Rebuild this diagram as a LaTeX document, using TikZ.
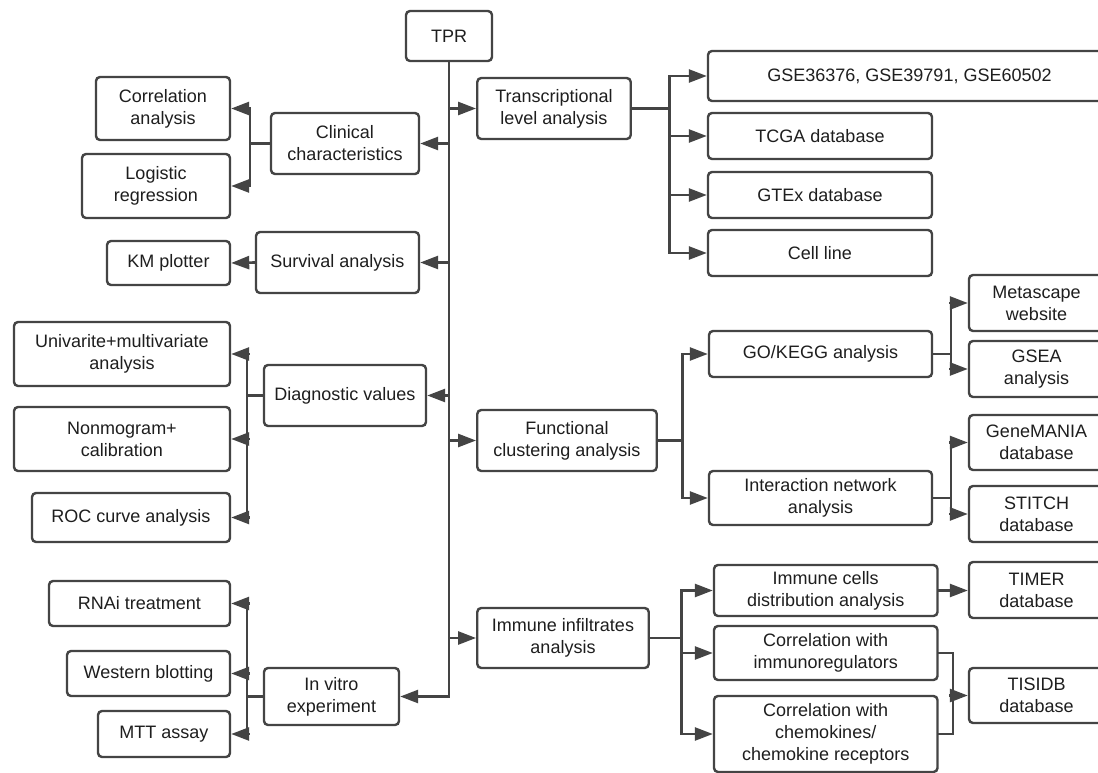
\documentclass[tikz,border=0pt]{standalone}
\usepackage{fontspec}
\setmainfont{Liberation Sans}
\usetikzlibrary{arrows.meta}
\definecolor{lc}{RGB}{68,68,68}
\definecolor{tc}{RGB}{30,30,30}
\newcommand\bx[6]{\node[box,minimum width=#4pt,minimum height=#5pt] (#1) at (#2,#3) {#6};}
\begin{document}
\begin{tikzpicture}[x=1pt,y=-1pt,
  box/.style={draw=lc, line width=2.4pt, rounded corners=4pt, align=center, inner sep=0pt, text=tc, fill=white, font=\fontsize{18}{22}\selectfont},
  con/.style={draw=lc, line width=2.6pt, line cap=rect},
  arr/.style={con, -{Triangle[length=18pt,width=13pt]}}]
\useasboundingbox (0,0) rectangle (1098,773);
\clip (0,0) rectangle (1098,773);
\fill[white] (0,0) rectangle (1098,773);
% left side
\bx{tpr}{449}{36}{86}{50}{TPR}
\bx{clin}{345}{143.5}{148}{61}{Clinical\\characteristics}
\bx{corr}{163}{108.5}{134}{63}{Correlation\\analysis}
\bx{logi}{156}{186}{148}{64}{Logistic\\regression}
\bx{surv}{337.5}{262.5}{163}{61}{Survival analysis}
\bx{km}{168.5}{263}{123}{44}{KM plotter}
\bx{diag}{345}{395.5}{162}{61}{Diagnostic values}
\bx{univ}{122}{354}{216}{64}{Univarite+multivariate\\analysis}
\bx{nomo}{122}{439}{216}{64}{Nonmogram+\\calibration}
\bx{roc}{131}{517.5}{198}{49}{ROC curve analysis}
\bx{vitro}{331.5}{696.5}{135}{57}{In vitro\\experiment}
\bx{rnai}{139.5}{603.5}{181}{45}{RNAi treatment}
\bx{west}{148.5}{673.5}{163}{45}{Western blotting}
\bx{mtt}{164}{734}{132}{46}{MTT assay}
% right side
\bx{trans}{554}{108.5}{153.5}{61}{Transcriptional\\level analysis}
\bx{gse}{909.5}{76}{403}{50}{GSE36376, GSE39791, GSE60502}
\bx{tcga}{820}{136}{224}{46}{TCGA database}
\bx{gtex}{820}{195}{224}{46}{GTEx database}
\bx{cell}{820}{253}{224}{46}{Cell line}
\bx{func}{567}{440.5}{179.5}{61}{Functional\\clustering analysis}
\bx{gokegg}{820.5}{354}{223}{46}{GO/KEGG analysis}
\bx{inter}{820.5}{498}{223}{54}{Interaction network\\analysis}
\bx{meta}{1036.5}{303}{135}{56}{Metascape\\website}
\bx{gsea}{1036.5}{369}{135}{56}{GSEA\\analysis}
\bx{gmania}{1036.5}{442.5}{135}{55}{GeneMANIA\\database}
\bx{stitch}{1036.5}{514}{135}{56}{STITCH\\database}
\bx{immu}{563}{638}{171.5}{60}{Immune infiltrates\\analysis}
\bx{icell}{825.75}{590.5}{223.5}{51}{Immune cells\\distribution analysis}
\bx{cimm}{825.75}{653}{223.5}{54}{Correlation with\\immunoregulators}
\bx{cchem}{825.75}{734}{223.5}{76}{Correlation with\\chemokines/\\chemokine receptors}
\bx{timer}{1036.5}{590}{135}{56}{TIMER\\database}
\bx{tisidb}{1036.5}{695.5}{135}{55}{TISIDB\\database}
% trunk
\draw[arr] (tpr.south) |- (vitro.east);
\draw[arr] (tpr.south |- clin.east) -- (clin.east);
\draw[arr] (tpr.south |- surv.east) -- (surv.east);
\draw[arr] (tpr.south |- diag.east) -- (diag.east);
\draw[arr] (tpr.south |- trans.west) -- (trans.west);
\draw[arr] (tpr.south |- func.west) -- (func.west);
\draw[arr] (tpr.south |- immu.west) -- (immu.west);
% clinical
\coordinate (bclin) at (250,143.5);
\draw[con] (clin.west) -- (bclin);
\draw[con] (bclin |- corr.east) -- (bclin |- logi.east);
\draw[arr] (bclin |- corr.east) -- (corr.east);
\draw[arr] (bclin |- logi.east) -- (logi.east);
% survival
\draw[arr] (surv.west) -- (km.east);
% diagnostic
\coordinate (bdiag) at (247,395.5);
\draw[con] (diag.west) -- (bdiag);
\draw[con] (bdiag |- univ.east) -- (bdiag |- roc.east);
\draw[arr] (bdiag |- univ.east) -- (univ.east);
\draw[arr] (bdiag |- nomo.east) -- (nomo.east);
\draw[arr] (bdiag |- roc.east) -- (roc.east);
% in vitro
\coordinate (bvit) at (247,696.5);
\draw[con] (vitro.west) -- (bvit);
\draw[con] (bvit |- rnai.east) -- (bvit |- mtt.east);
\draw[arr] (bvit |- rnai.east) -- (rnai.east);
\draw[arr] (bvit |- west.east) -- (west.east);
\draw[arr] (bvit |- mtt.east) -- (mtt.east);
% transcriptional
\coordinate (btr) at (669.5,108.5);
\draw[con] (trans.east) -- (btr);
\draw[con] (btr |- gse.west) -- (btr |- cell.west);
\draw[arr] (btr |- gse.west) -- (gse.west);
\draw[arr] (btr |- tcga.west) -- (tcga.west);
\draw[arr] (btr |- gtex.west) -- (gtex.west);
\draw[arr] (btr |- cell.west) -- (cell.west);
% functional
\coordinate (bfu) at (682.4,440.5);
\draw[con] (func.east) -- (bfu);
\draw[con] (bfu |- gokegg.west) -- (bfu |- inter.west);
\draw[arr] (bfu |- gokegg.west) -- (gokegg.west);
\draw[arr] (bfu |- inter.west) -- (inter.west);
\coordinate (bgo) at (951,354);
\draw[con] (gokegg.east) -- (bgo);
\draw[con] (bgo |- meta.west) -- (bgo |- gsea.west);
\draw[arr] (bgo |- meta.west) -- (meta.west);
\draw[arr] (bgo |- gsea.west) -- (gsea.west);
\coordinate (bin) at (951,498);
\draw[con] (inter.east) -- (bin);
\draw[con] (bin |- gmania.west) -- (bin |- stitch.west);
\draw[arr] (bin |- gmania.west) -- (gmania.west);
\draw[arr] (bin |- stitch.west) -- (stitch.west);
% immune
\coordinate (bim) at (681.6,638);
\draw[con] (immu.east) -- (bim);
\draw[con] (bim |- icell.west) -- (bim |- cchem.west);
\draw[arr] (bim |- icell.west) -- (icell.west);
\draw[arr] (bim |- cimm.west) -- (cimm.west);
\draw[arr] (bim |- cchem.west) -- (cchem.west);
\draw[arr] (icell.east) -- (icell.east -| timer.west);
\coordinate (bts) at (953,695.5);
\draw[con] (cimm.east) -- (bts |- cimm.east) -- (bts |- cchem.east) -- (cchem.east);
\draw[arr] (bts |- tisidb.west) -- (tisidb.west);
\end{tikzpicture}
\end{document}
